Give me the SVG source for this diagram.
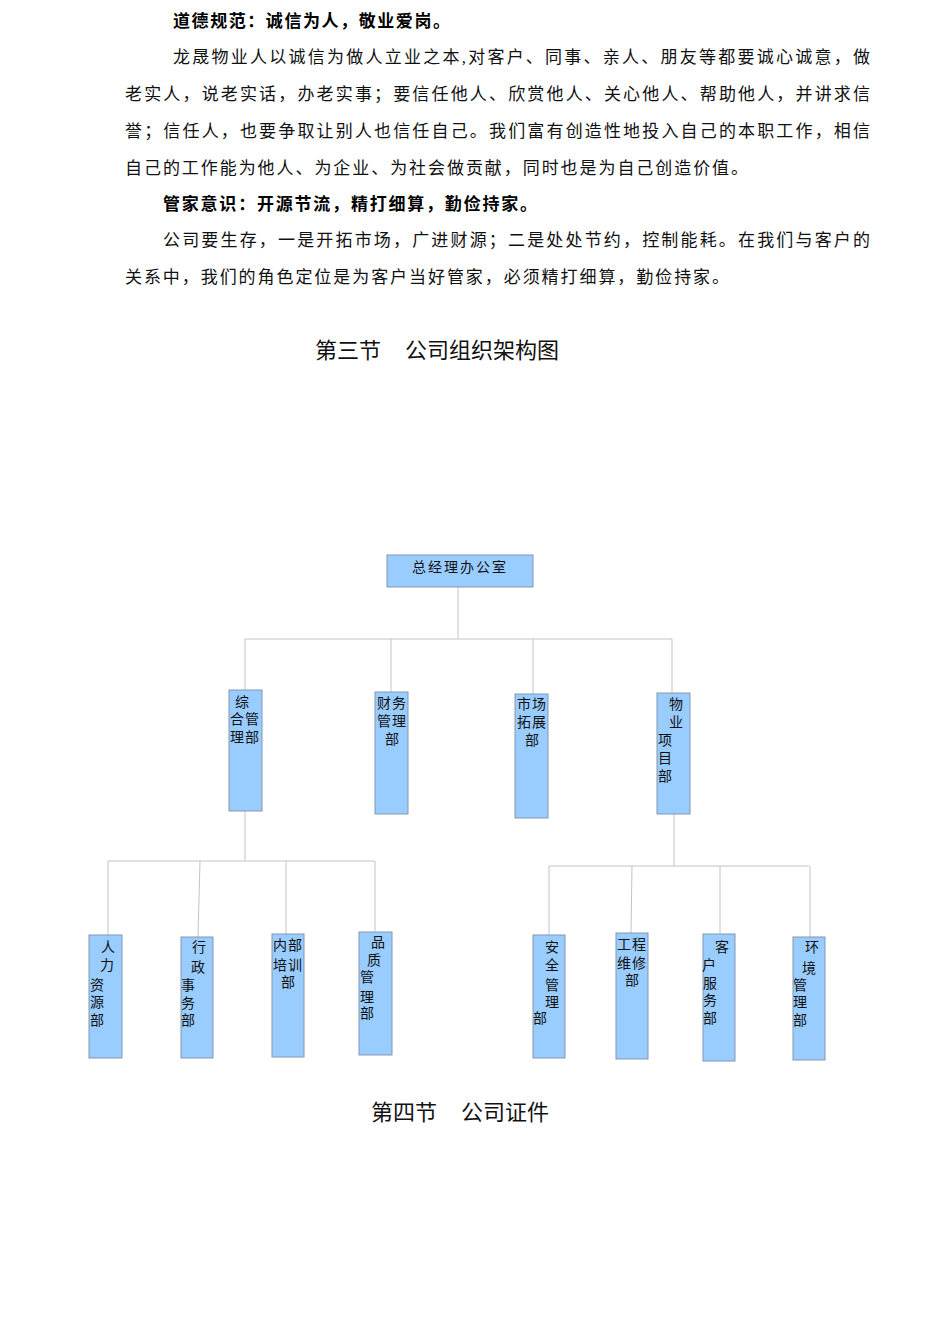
<svg xmlns="http://www.w3.org/2000/svg" width="950" height="1344" viewBox="0 0 950 1344">
<style>
.body{font-family:"Liberation Serif","Noto Sans CJK SC",serif;font-size:17px;fill:#111;}
.bold{font-family:"Liberation Serif","Noto Sans CJK SC",serif;font-size:17px;font-weight:bold;fill:#000;}
.head{font-family:"Liberation Sans","Noto Sans CJK SC",sans-serif;font-size:22px;fill:#111;}
.box{fill:#99ccff;stroke:#8497b0;stroke-width:1;}
.lbl{font-family:"Liberation Serif","Noto Sans CJK SC",serif;font-size:14px;fill:#111;text-anchor:middle;}
.conn{fill:none;stroke:#c4c4c4;stroke-width:1;}
</style>
<rect width="950" height="1344" fill="#fff"/>
<g id="text">
<text class="bold" x="173" y="27" textLength="277" lengthAdjust="spacing">道德规范：诚信为人，敬业爱岗。</text>
<text class="body" x="173" y="63" textLength="697" lengthAdjust="spacing">龙晟物业人以诚信为做人立业之本,对客户、同事、亲人、朋友等都要诚心诚意，做</text>
<text class="body" x="125" y="100" textLength="745" lengthAdjust="spacing">老实人，说老实话，办老实事；要信任他人、欣赏他人、关心他人、帮助他人，并讲求信</text>
<text class="body" x="125" y="137" textLength="745" lengthAdjust="spacing">誉；信任人，也要争取让别人也信任自己。我们富有创造性地投入自己的本职工作，相信</text>
<text class="body" x="125" y="174" textLength="623" lengthAdjust="spacing">自己的工作能为他人、为企业、为社会做贡献，同时也是为自己创造价值。</text>
<text class="bold" x="163" y="210" textLength="374" lengthAdjust="spacing">管家意识：开源节流，精打细算，勤俭持家。</text>
<text class="body" x="163" y="246" textLength="707" lengthAdjust="spacing">公司要生存，一是开拓市场，广进财源；二是处处节约，控制能耗。在我们与客户的</text>
<text class="body" x="125" y="283" textLength="604" lengthAdjust="spacing">关系中，我们的角色定位是为客户当好管家，必须精打细算，勤俭持家。</text>
<text class="head" y="358"><tspan x="315">第三节</tspan><tspan x="405">公司组织架构图</tspan></text>
<text class="head" y="1120"><tspan x="371">第四节</tspan><tspan x="461">公司证件</tspan></text>
</g>
<g id="connectors">
<path class="conn" d="M458 587V639M245 639H672M245 639V690M391 639V692M533 639V694M672 639V693"/>
<path class="conn" d="M245 811V861M108 861H375M108 861V935M200 861L198 937M286 861V934M375 861V931"/>
<path class="conn" d="M674 814V866M549 866H809M549 866V935M632 866L631 933M720 866V934M810 866V937"/>
</g>
<g id="n-top"><rect class="box" x="387" y="555" width="146" height="32"/><text class="lbl" x="460" y="572" letter-spacing="2">总经理办公室</text></g>
<g id="n-zonghe"><rect class="box" x="229" y="690" width="33" height="121"/>
<text class="lbl" x="242" y="707">综</text><text class="lbl" x="245" y="724" letter-spacing="1">合管</text><text class="lbl" x="245" y="742" letter-spacing="1">理部</text></g>
<g id="n-caiwu"><rect class="box" x="375" y="692" width="33" height="122"/>
<text class="lbl" x="392" y="708" letter-spacing="1">财务</text><text class="lbl" x="392" y="726" letter-spacing="1">管理</text><text class="lbl" x="392" y="744">部</text></g>
<g id="n-shichang"><rect class="box" x="515" y="694" width="33" height="124"/>
<text class="lbl" x="532" y="709" letter-spacing="1">市场</text><text class="lbl" x="532" y="727" letter-spacing="1">拓展</text><text class="lbl" x="532" y="745">部</text></g>
<g id="n-wuye"><rect class="box" x="657" y="693" width="33" height="121"/>
<text class="lbl" x="676" y="709">物</text><text class="lbl" x="676" y="727">业</text><text class="lbl" x="665" y="745">项</text><text class="lbl" x="665" y="763">目</text><text class="lbl" x="665" y="781">部</text></g>
<g id="n-renli"><rect class="box" x="89" y="935" width="33" height="123"/>
<text class="lbl" x="108" y="952">人</text><text class="lbl" x="107" y="970">力</text><text class="lbl" x="97" y="990">资</text><text class="lbl" x="97" y="1007">源</text><text class="lbl" x="97" y="1025">部</text></g>
<g id="n-xingzheng"><rect class="box" x="181" y="937" width="32" height="121"/>
<text class="lbl" x="199" y="952">行</text><text class="lbl" x="198" y="972">政</text><text class="lbl" x="188" y="990">事</text><text class="lbl" x="188" y="1008">务</text><text class="lbl" x="188" y="1025">部</text></g>
<g id="n-peixun"><rect class="box" x="272" y="934" width="32" height="123"/>
<text class="lbl" x="288" y="950" letter-spacing="1">内部</text><text class="lbl" x="288" y="970" letter-spacing="1">培训</text><text class="lbl" x="288" y="987">部</text></g>
<g id="n-pinzhi"><rect class="box" x="359" y="932" width="33" height="123"/>
<text class="lbl" x="378" y="947">品</text><text class="lbl" x="374" y="965">质</text><text class="lbl" x="367" y="982">管</text><text class="lbl" x="367" y="1002">理</text><text class="lbl" x="367" y="1018">部</text></g>
<g id="n-anquan"><rect class="box" x="533" y="935" width="32" height="123"/>
<text class="lbl" x="552" y="952">安</text><text class="lbl" x="552" y="970">全</text><text class="lbl" x="552" y="990">管</text><text class="lbl" x="552" y="1007">理</text><text class="lbl" x="540" y="1023">部</text></g>
<g id="n-gongcheng"><rect class="box" x="616" y="933" width="32" height="126"/>
<text class="lbl" x="632" y="949" letter-spacing="1">工程</text><text class="lbl" x="632" y="968" letter-spacing="1">维修</text><text class="lbl" x="632" y="985">部</text></g>
<g id="n-kehu"><rect class="box" x="703" y="934" width="32" height="127"/>
<text class="lbl" x="722" y="952">客</text><text class="lbl" x="709" y="970">户</text><text class="lbl" x="710" y="988">服</text><text class="lbl" x="710" y="1005">务</text><text class="lbl" x="710" y="1023">部</text></g>
<g id="n-huanjing"><rect class="box" x="793" y="937" width="32" height="123"/>
<text class="lbl" x="812" y="952">环</text><text class="lbl" x="809" y="973">境</text><text class="lbl" x="800" y="990">管</text><text class="lbl" x="800" y="1007">理</text><text class="lbl" x="800" y="1025">部</text></g>
</svg>
